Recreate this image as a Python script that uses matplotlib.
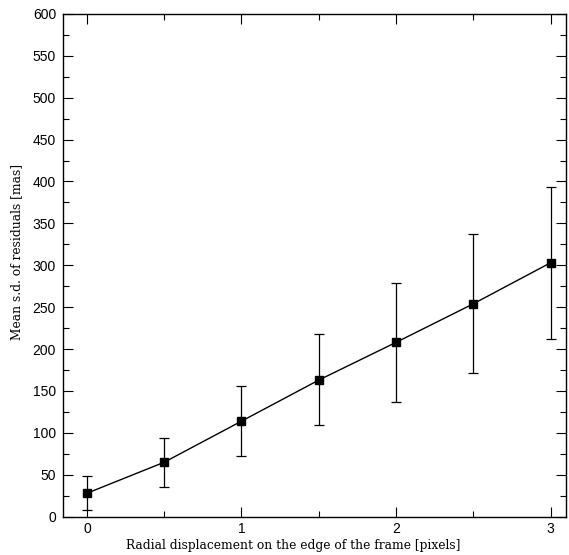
import numpy as np
import matplotlib
matplotlib.use('Agg')
import matplotlib.pyplot as plt
from matplotlib.ticker import MultipleLocator

# --- datos ---
desplazamiento = [0.0, 0.5, 1.0, 1.5, 2.0, 2.5, 3.0]
media_sd       = [28, 65, 114, 163, 208, 254, 303]
err_inf        = [8, 36, 72, 110, 137, 171, 212]
err_sup        = [48, 94, 156, 218, 279, 337, 394]

x = np.array(desplazamiento)
y = np.array(media_sd)
yerr = np.vstack([y - np.array(err_inf), np.array(err_sup) - y])

fig = plt.figure(figsize=(5.69, 5.55), dpi=100)
ax = fig.add_axes([0.1107, 0.069, 0.884, 0.906])

ax.errorbar(x, y, yerr=yerr, fmt='-s', color='black', lw=1.0,
            elinewidth=0.9, ms=6, capsize=3.3, capthick=0.9, zorder=3)

ax.set_xlim(-0.155, 3.1)
ax.set_ylim(0, 600)

ax.xaxis.set_major_locator(MultipleLocator(1))
ax.xaxis.set_minor_locator(MultipleLocator(0.5))
ax.yaxis.set_major_locator(MultipleLocator(50))
ax.yaxis.set_minor_locator(MultipleLocator(25))

ax.tick_params(which='both', direction='in', top=True, right=True,
               width=0.8, labelsize=10)
ax.tick_params(axis='y', pad=5)
ax.tick_params(which='major', length=7)
ax.tick_params(which='minor', length=4)
for lab in ax.get_xticklabels() + ax.get_yticklabels():
    lab.set_family('Liberation Sans')

for s in ax.spines.values():
    s.set_linewidth(1.0)

ax.set_xlabel('Radial displacement on the edge of the frame [pixels]',
              family='DejaVu Serif', fontsize=8.8, labelpad=3)
ax.xaxis.set_label_coords(0.457, -0.045)
ax.set_ylabel('Mean s.d. of residuals [mas]',
              family='DejaVu Serif', fontsize=8.8, labelpad=6)
ax.yaxis.set_label_coords(-0.08, 0.526)

fig.savefig('out.png', dpi=100)
